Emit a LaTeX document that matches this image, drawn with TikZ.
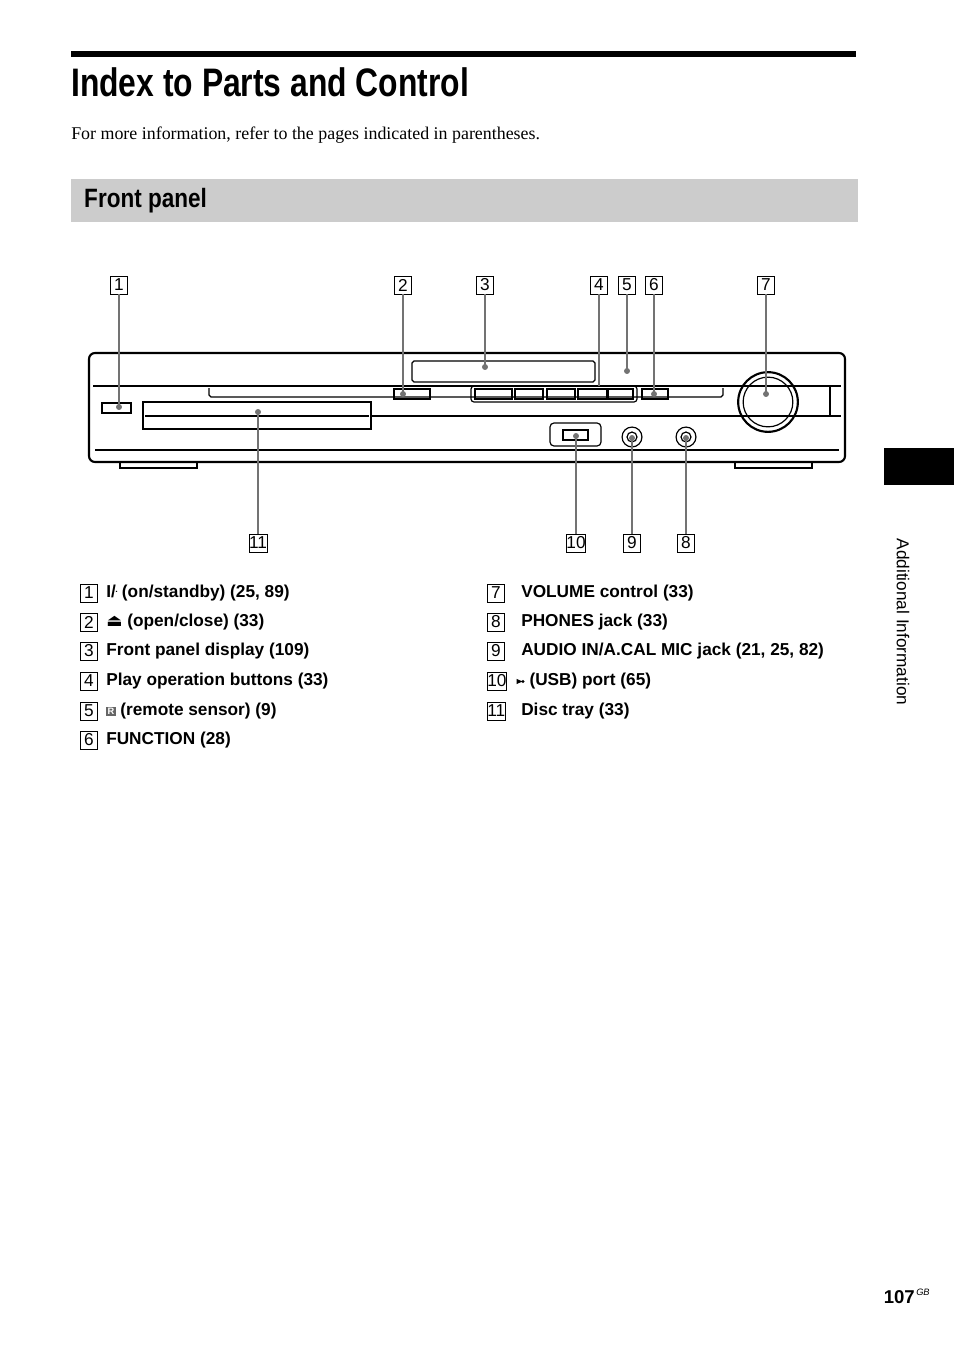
\documentclass[tikz,border=0pt]{standalone}
\usepackage{fontspec}
\setmainfont{Liberation Serif}
\setsansfont{Liberation Sans}
\newfontfamily\symfont{DejaVu Sans}
\usetikzlibrary{positioning}

\tikzset{
  numbox/.style={draw, line width=0.6pt, inner sep=0pt, minimum width=12.75pt, minimum height=13.5pt, font=\sffamily\fontsize{13}{13}\selectfont},
  item/.style={anchor=west, inner sep=0pt, font=\sffamily\bfseries\fontsize{13}{14}\selectfont},
  leader/.style={draw=black!55, line width=1.2pt},
  part/.style={line width=0.9pt},
  tip/.style={circle, fill=black!55, inner sep=0pt, minimum size=4.5pt}
}
\newcommand{\sensorR}{\tikz[baseline=-3pt]\node[fill=black!60, text=white, inner sep=1pt, font=\sffamily\bfseries\scriptsize]{R};}
\newcommand{\usbmark}{\tikz[baseline=-3pt, line width=0.8pt]{\draw[-latex] (0,0) -- (0.55,0); \fill (0,0) circle (1.3pt); \draw (0.12,0) -- (0.22,0.1) -- (0.36,0.1); \draw (0.18,0) -- (0.28,-0.1) -- (0.38,-0.1);}}
\newcommand{\powermark}{\tikz[baseline=-4.5pt, line width=0.8pt]{\draw (60:0.13) arc (60:-240:0.13); \draw (0,0.17) -- (0,0);}}

\begin{document}
\begin{tikzpicture}[x=0.0265cm, y=-0.0265cm]
\useasboundingbox (0,0) rectangle (954,1352);

% heading
\fill (71,51) rectangle (856,57);
\node[anchor=west, inner sep=0pt, font=\sffamily\bfseries\fontsize{30}{30}\selectfont, xscale=0.8] (title) at (71,82) {Index to Parts and Control};
\node[anchor=west, inner sep=0pt, font=\fontsize{13.5}{14}\selectfont] (intro) at (71,135) {For more information, refer to the pages indicated in parentheses.};
\fill[black!20] (71,179) rectangle (858,222);
\node[anchor=west, inner sep=0pt, font=\sffamily\bfseries\fontsize{20}{20}\selectfont, xscale=0.85] (section) at (84,201) {Front panel};

% side tab
\fill (884,448) rectangle (954,485);
\node[rotate=-90, inner sep=0pt, font=\sffamily\fontsize{13}{14}\selectfont] (tab) at (903,622) {Additional Information};
\node[anchor=east, inner sep=0pt, font=\sffamily\bfseries\fontsize{14}{14}\selectfont] (page) at (915,1297) {107};
\node[anchor=west, inner sep=0pt, font=\sffamily\itshape\fontsize{7}{7}\selectfont] (gb) at (916,1292) {GB};

% body of the unit
\draw[part, line width=1.6pt, rounded corners=4.5pt] (89,462) -- (89,353) -- (845,353) -- (845,462) -- cycle;
\draw[part] (120,462) -- (120,468) -- (197,468) -- (197,462);
\draw[part] (735,462) -- (735,468) -- (812,468) -- (812,462);
\draw[part] (93,386) -- (841,386);
\draw[part] (95,450) -- (839,450);
\draw[part] (371,416) -- (841,416);
\draw[part] (830,386) -- (830,416);
\draw[part, rounded corners=1.5pt] (209,388) -- (209,397) -- (723,397) -- (723,388);
\draw[part, rounded corners=1.5pt] (412,361) rectangle (595,382);
\draw[part] (102,403) rectangle (131,413);
\draw[part] (143,402) rectangle (371,429);
\draw[part] (145,416) -- (369,416);
\draw[part] (394,389) rectangle (430,399);
\draw[part, rounded corners=2.25pt] (471,386) rectangle (637,402);
\foreach \bx/\bw in {475/37,515/28,547/28,578/29,608/25}
  \draw[part, line width=1.3pt] (\bx,389) rectangle ++(\bw,10);
\draw[part] (642,389) rectangle (668,399);
\draw[part, rounded corners=3pt] (550,423) rectangle (601,446);
\draw[part, line width=1.3pt] (563,430) rectangle (588,440);
\foreach \jx in {632,686} {
  \draw[part] (\jx,437) circle (7.5pt);
  \draw[part] (\jx,437) circle (3.75pt);
}
\draw[part, line width=1.6pt] (768,402) circle (22.5pt);
\draw[part] (768,402) circle (18.75pt);

% callouts
\foreach \n/\cx in {1/119,2/403,3/485,4/599,5/627,6/654,7/766}
  \node[numbox] (c\n) at (\cx,285) {\n};
\foreach \n/\cx in {11/258,10/576,9/632,8/686}
  \node[numbox] (c\n) at (\cx,543) {\n};

\coordinate (p1) at (119,407);
\coordinate (p2) at (403,394);
\coordinate (p3) at (485,367);
\coordinate (p4) at (599,386);
\coordinate (p5) at (627,371);
\coordinate (p6) at (654,394);
\coordinate (p7) at (766,394);
\coordinate (p11) at (258,412);
\coordinate (p10) at (576,436);
\coordinate (p9) at (632,438);
\coordinate (p8) at (686,438);
\foreach \n in {1,2,3,5,6,7,11,10,9,8} {
  \draw[leader] (c\n) -- (p\n);
  \node[tip] at (p\n) {};
}
\draw[leader] (c4) -- (p4);

% list of parts
\foreach \n/\yy/\txt in {
  1/593/{\textbf{I}/\powermark\ (on/standby) (25, 89)},
  2/622/{{\symfont\char"23CF} (open/close) (33)},
  3/651/{Front panel display (109)},
  4/681/{Play operation buttons (33)},
  5/711/{\sensorR\ (remote sensor) (9)},
  6/740/{FUNCTION (28)}} {
  \node[numbox, anchor=west] (k\n) at (80,\yy) {\n};
  \node[item] (t\n) at (106,\yy) {\txt};
}
\foreach \n/\yy/\txt in {
  7/593/{VOLUME control (33)},
  8/622/{PHONES jack (33)},
  9/651/{AUDIO IN/A.CAL MIC jack (21, 25, 82)},
  10/681/{\usbmark\ (USB) port (65)},
  11/711/{Disc tray (33)}} {
  \node[numbox, anchor=west] (k\n) at (487,\yy) {\n};
  \node[item] (t\n) at (521,\yy) {\txt};
}
\end{tikzpicture}
\end{document}
